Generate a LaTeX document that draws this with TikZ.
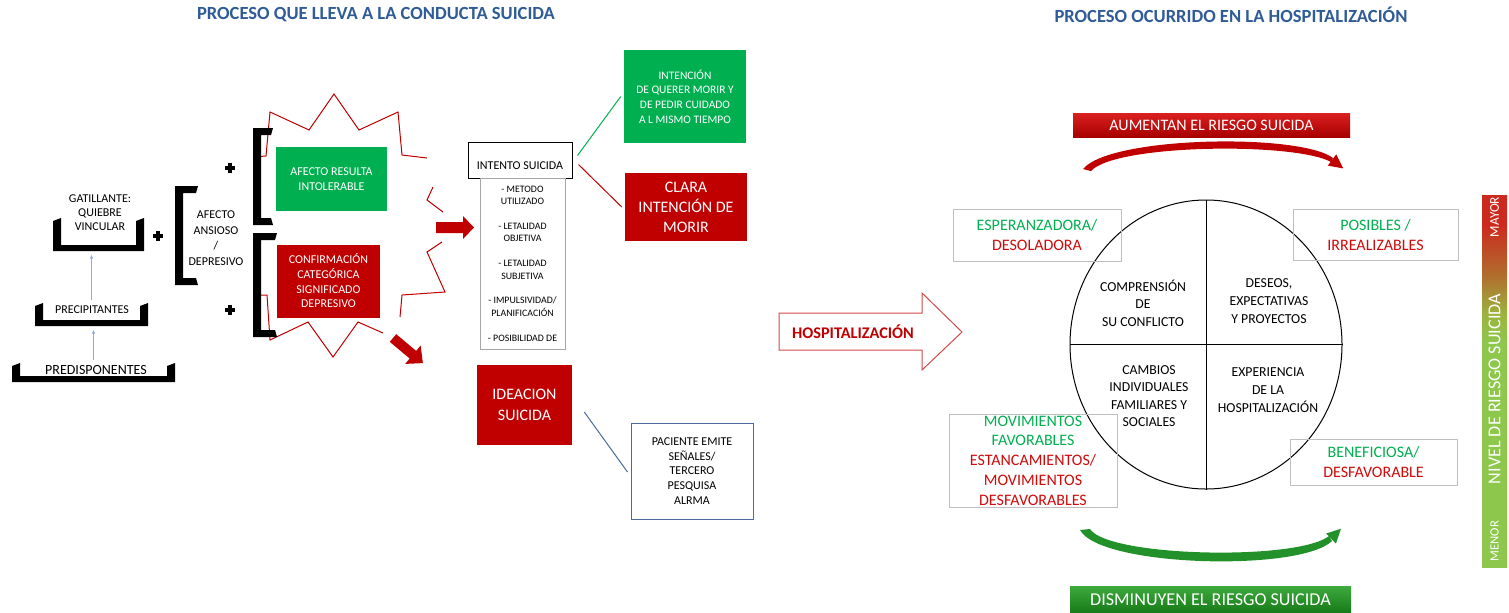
\documentclass[tikz,border=0pt]{standalone}
\usepackage{fontspec}
\setmainfont{Carlito}
\usetikzlibrary{arrows.meta,shapes.geometric}
\definecolor{titleblue}{HTML}{2F5C97}
\definecolor{boxgreen}{HTML}{00B050}
\definecolor{boxred}{HTML}{C00000}
\definecolor{txtred}{HTML}{D00A0A}
\definecolor{linkblue}{HTML}{4A6B9C}
\definecolor{arrowblue}{HTML}{8FAADC}
\definecolor{framegrey}{HTML}{BFBFBF}
\definecolor{listgrey}{HTML}{A6A6A6}
\definecolor{hospline}{HTML}{D24A4A}
\definecolor{curvegreen}{HTML}{23912A}
\definecolor{bannergreenA}{HTML}{3DAA3D}
\definecolor{bannergreenB}{HTML}{177A17}
\definecolor{bannerredA}{HTML}{DA2020}
\definecolor{bannerredB}{HTML}{A80000}
\definecolor{barred}{HTML}{CC2A1E}
\definecolor{barbrown}{HTML}{B0702E}
\definecolor{barolive}{HTML}{9CB33E}
\definecolor{bargreen}{HTML}{8DC84C}
\newcommand\fsz[2]{\fontsize{#1}{#2}\selectfont}
% tray under a label: name, left, right, top, bottom
\newcommand\traybar[5]{%
  \fill (#2,#4+3) -- (#2+8,#4) -- (#2+8,#5-6) -- (#3-8,#5-6) -- (#3-8,#4+3)
    -- (#3,#4) -- (#3,#5) -- (#2,#5) -- cycle;
  \coordinate (#1-top) at ({(#2+#3)/2},#4);
  \coordinate (#1-bot) at ({(#2+#3)/2},#5);
}
% square bracket: left, right, top, bottom
\newcommand\sqbracket[4]{%
  \fill (#2,#3) -- (#1,#3) -- (#1,#4) -- (#2,#4) -- (#2-2,#4-7) -- (#1+8,#4-7)
    -- (#1+8,#3+7) -- (#2-2,#3+7) -- cycle;
}
\pgfdeclareverticalshading{riskbar}{100bp}{color(0bp)=(bargreen); color(25bp)=(bargreen);
  color(55bp)=(bargreen); color(59bp)=(barolive); color(64bp)=(barbrown);
  color(71bp)=(barred); color(100bp)=(barred)}
\tikzset{
  every node/.style={inner sep=0pt, align=center, text=black},
  sized/.style 2 args={minimum width=#1*0.75pt, minimum height=#2*0.75pt},
  title/.style={font=\fsz{13.9}{16}\bfseries, text=titleblue},
  lbl/.style={font=\fsz{9}{10.5}},
  quad/.style={font=\fsz{10.3}{13.2}},
  solidbox/.style={rectangle, fill=#1, text=white},
  framebox/.style={rectangle, draw=#1, line width=0.75pt},
  link/.style={draw=#1, line width=0.75pt},
  uparrow/.style={draw=arrowblue, line width=0.5pt, -{Stealth[length=3pt,width=2.5pt]}},
  plusmark/.style={line width=3pt},
  burst/.style={draw=boxred, line width=0.75pt},
  hosparrow/.style={draw=hospline, line width=0.75pt, fill=white},
  banner/.style={rectangle, text=white, font=\fsz{12}{14}},
  level/.style={text=white, rotate=90},
}

\begin{document}
\begin{tikzpicture}[x=0.75pt,y=-0.75pt]
\path[fill=white, use as bounding box] (0,0) rectangle (1509,612);

% ---- Titles ----------------------------------------------------------------
\node[title] (lefttitle) at (376,15) {PROCESO QUE LLEVA A LA CONDUCTA SUICIDA};
\node[title] (righttitle) at (1231,15) {PROCESO OCURRIDO EN LA HOSPITALIZACIÓN};

% ---- Burst round the two affects ------------------------------------------
\draw[burst] (253,157) -- (266,156) -- (270,112) -- (309,130) -- (334,94) -- (359,130)
  -- (398,112) -- (402,155) -- (427,158);
\draw[burst] (433,187) -- (427,200) -- (443,212);
\draw[burst] (442,242) -- (427,252) -- (445,292) -- (402,295) -- (400,317);
\draw[burst] (383,333) -- (358,322) -- (333,357) -- (308,322) -- (270,340) -- (267,295)
  -- (253,295);

% ---- Left column: predisposing, precipitating, trigger ---------------------
\traybar{gattray}{53}{144}{218}{251}
\traybar{prectray}{35}{148}{303}{326}
\traybar{predtray}{12}{175}{363}{382}
\node[lbl] (gatillante) at (100,213) {GATILLANTE:\\QUIEBRE\\VINCULAR};
\node[lbl] (precipitantes) at (92,310) {PRECIPITANTES};
\node[lbl, font=\fsz{10.5}{12}] (predisponentes) at (96,370) {PREDISPONENTES};
\draw[uparrow, shorten <=2pt, shorten >=3pt] (prectray-top) -- (prectray-top |- gattray-bot);
\draw[uparrow, shorten <=2pt, shorten >=3pt] (predtray-top) -- (predtray-top |- prectray-bot);

\sqbracket{175}{198}{186}{285}
\sqbracket{253}{273}{128}{225}
\sqbracket{253}{277}{233}{337}
\foreach \x/\y in {158/236,230/168,230/310}
  \draw[plusmark] (\x-5,\y) -- (\x+5,\y) (\x,\y-5) -- (\x,\y+5);
\node[lbl, font=\fsz{9}{11.6}] (ansioso) at (216,238) {AFECTO\\ANSIOSO\\/\\DEPRESIVO};

\node[solidbox=boxgreen, sized={111}{64}, font=\fsz{9}{11.25}] (intolerable) at (331.5,179)
  {AFECTO RESULTA\\INTOLERABLE};
\node[solidbox=boxred, sized={103}{73}, font=\fsz{9}{11}] (confirmacion) at (328.5,281)
  {CONFIRMACIÓN\\CATEGÓRICA\\SIGNIFICADO\\DEPRESIVO};

% block arrows out of the burst
\fill[boxred] (436,222) -- (463,222) -- (463,216) -- (474,227.5) -- (463,239) -- (463,233)
  -- (436,233) -- cycle;
\begin{scope}[shift={(393,338)}, rotate=-40]
  \fill[boxred] (0,-5) -- (26,-5) -- (26,-12) -- (39,0) -- (26,12) -- (26,5) -- (0,5) -- cycle;
\end{scope}

% ---- Suicidal attempt and ideation ----------------------------------------
\node[framebox=black, sized={104}{35}, font=\fsz{9}{10}, text height=19.9pt, text depth=6.4pt]
  (intento) at (520,160.5) {INTENTO SUICIDA};
\node[framebox=listgrey, sized={85}{171}, font=\fsz{7.4}{9.3}] (criterios) at (522.5,263.5)
  {- METODO\\UTILIZADO\\[9.3pt]- LETALIDAD\\OBJETIVA\\[9.3pt]- LETALIDAD\\SUBJETIVA\\[9.3pt]%
   - IMPULSIVIDAD/\\PLANIFICACIÓN\\[9.3pt]- POSIBILIDAD DE};
\node[solidbox=boxgreen, sized={122}{93}, font=\fsz{8.6}{11}] (dual) at (685,96.5)
  {INTENCIÓN\\DE QUERER MORIR Y\\DE PEDIR CUIDADO\\A L MISMO TIEMPO};
\node[solidbox=boxred, sized={122}{68}, font=\fsz{12}{15}] (clara) at (686,207)
  {CLARA\\INTENCIÓN DE\\MORIR};
\node[solidbox=boxred, sized={95}{80}, font=\fsz{12}{15.75}] (ideacion) at (524.5,405)
  {IDEACION\\SUICIDA};
\node[framebox=linkblue, sized={122}{96}, font=\fsz{9}{11}] (paciente) at (692,471)
  {PACIENTE EMITE\\SEÑALES/\\TERCERO\\PESQUISA\\ALRMA};

\draw[link=boxgreen] ([shift={(5,-5)}]intento.east) -- ([shift={(-3,0)}]dual.west);
\draw[link=boxred] ([shift={(6,4)}]intento.east) -- ([shift={(-3,0)}]clara.west);
\draw[link=linkblue] ([shift={(12,7)}]ideacion.east) -- ([shift={(-3,1)}]paciente.west);

% ---- Hospitalisation ------------------------------------------------------
\draw[hosparrow] (779,313) -- (922,313) -- (922,293) -- (962,332) -- (922,370) -- (922,350)
  -- (779,350) -- cycle;
\node[font=\fsz{12.2}{14}\bfseries, text=boxred] (hospital) at (853,332) {HOSPITALIZACIÓN};

% ---- Right: four areas of the stay ----------------------------------------
\node[banner, sized={277}{24}, top color=bannerredA, bottom color=bannerredB] (aumentan)
  at (1211.5,125) {AUMENTAN EL RIESGO SUICIDA};
\fill[boxred] (1083,169) .. controls (1110,136) and (1300,133) .. (1333,158)
  -- (1331,162) .. controls (1295,142) and (1115,144) .. (1091,171) -- cycle;
\fill[boxred] (1327.8,165.6) -- (1336.2,154.4) -- (1343.2,168.4) -- cycle;

\node[draw, ellipse, line width=0.75pt, sized={272}{289}] (ambito) at (1206,344.5) {};
\draw[line width=0.75pt] (ambito.north) -- (ambito.south) (ambito.west) -- (ambito.east);
\node[quad] (comprension) at (1143,303) {COMPRENSIÓN\\DE\\SU CONFLICTO};
\node[quad] (deseos) at (1269,301) {DESEOS,\\EXPECTATIVAS\\Y PROYECTOS};
\node[quad] (cambios) at (1149,396) {CAMBIOS\\INDIVIDUALES\\FAMILIARES Y\\SOCIALES};
\node[quad] (experiencia) at (1268,390) {EXPERIENCIA\\DE LA\\HOSPITALIZACIÓN};

\node[framebox=framegrey, sized={168}{52}, font=\fsz{12}{15}] (esperanza) at (1037,235)
  {\textcolor{boxgreen}{ESPERANZADORA/}\\\textcolor{txtred}{DESOLADORA}};
\node[framebox=framegrey, sized={165}{51}, font=\fsz{12}{15}] (posibles) at (1375.5,234.5)
  {\textcolor{boxgreen}{POSIBLES /}\\\textcolor{txtred}{IRREALIZABLES}};
\node[framebox=framegrey, sized={168}{93}, font=\fsz{12}{14.8}] (movimientos) at (1033,460.5)
  {\textcolor{boxgreen}{MOVIMIENTOS}\\\textcolor{boxgreen}{FAVORABLES}\\
   \textcolor{txtred}{ESTANCAMIENTOS/}\\\textcolor{txtred}{MOVIMIENTOS}\\
   \textcolor{txtred}{DESFAVORABLES}};
\node[framebox=framegrey, sized={167}{46}, font=\fsz{12}{15}] (beneficiosa) at (1373.5,462)
  {\textcolor{boxgreen}{BENEFICIOSA/}\\\textcolor{txtred}{DESFAVORABLE}};

\fill[curvegreen] (1080,530) .. controls (1100,567) and (1300,572) .. (1332,541)
  -- (1329,536) .. controls (1297,561) and (1108,557) .. (1090,529) -- cycle;
\fill[curvegreen] (1335.9,543.5) -- (1326.1,533.5) -- (1341,528.7) -- cycle;
\node[banner, sized={281}{27}, font=\fsz{13.6}{15}, top color=bannergreenA,
  bottom color=bannergreenB] (disminuyen) at (1210.5,599.5) {DISMINUYEN EL RIESGO SUICIDA};

% ---- Risk level bar -------------------------------------------------------
\node[shade, shading=riskbar, sized={25}{372}] (levelbar) at (1494.5,381) {};
\node[level, font=\fsz{10}{12}] (mayor) at (levelbar.center |- 0,217) {MAYOR};
\node[level, font=\fsz{13.6}{15}] (nivel) at (levelbar.center |- 0,389) {NIVEL DE RIESGO SUICIDA};
\node[level, font=\fsz{9.5}{12}] (menor) at (levelbar.center |- 0,541) {MENOR};

\end{tikzpicture}
\end{document}
